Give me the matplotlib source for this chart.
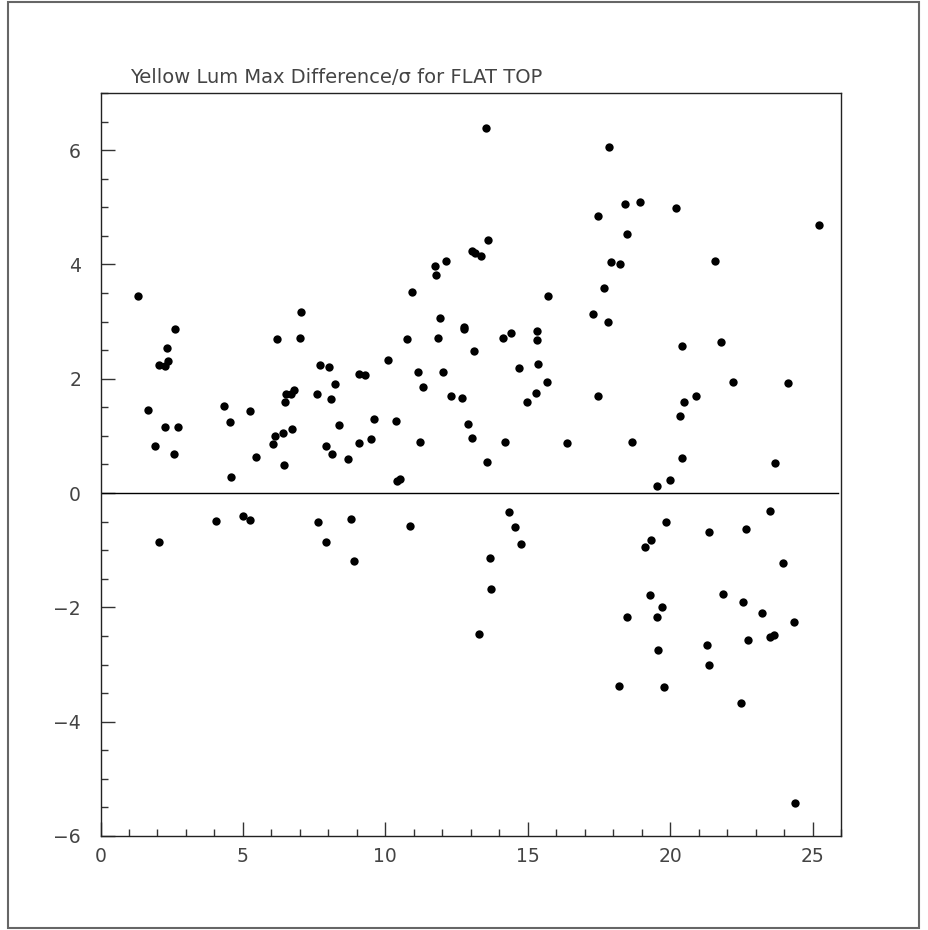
import matplotlib
matplotlib.use("Agg")
import matplotlib.pyplot as plt
from matplotlib.patches import Rectangle
from matplotlib.ticker import MultipleLocator

# scan number vs max difference / sigma
x_vals = [
    1.33, 1.67, 1.91, 2.07, 2.27, 2.33, 2.38, 2.28, 2.61, 2.71, 2.59,
    4.32, 4.54, 4.57, 5.24, 5.46, 6.06, 6.12, 6.44, 6.40, 6.21, 6.47,
    6.53, 6.70, 6.81, 6.74, 7.05, 7.02, 7.61, 7.71, 8.01, 8.09, 8.23,
    7.90, 8.12, 8.39, 8.70, 9.06, 9.27, 9.09, 9.49, 9.61, 10.11, 10.39,
    10.41, 10.50, 10.75, 10.93, 11.14, 11.23, 11.34, 11.75, 11.79, 12.14,
    11.92, 11.86, 12.03, 12.32, 12.69, 12.75, 12.77, 13.13, 12.92, 13.05,
    13.58, 13.04, 13.16, 13.35, 13.62, 13.52, 14.13, 14.41, 14.20, 14.70,
    14.96, 15.28, 15.69, 15.34, 15.33, 15.35, 15.70, 16.38,
    17.84, 18.42, 18.95, 17.47, 20.19, 18.50, 25.21, 17.94, 18.24, 21.56,
    17.68, 17.28, 17.83, 20.40, 21.80, 22.22, 24.15, 17.48, 20.49, 20.91,
    20.33, 18.66, 20.41, 23.68, 19.53, 20.00,
    2.07, 4.05, 5.02, 5.26, 7.64, 7.92, 8.80, 8.90, 10.87,
    14.33, 14.55, 14.76, 13.69, 13.70, 13.30, 18.21, 18.49, 19.12, 19.34,
    19.87, 19.28, 19.73, 19.54, 19.59, 19.79, 21.38, 21.28, 21.35, 21.84,
    22.68, 22.56, 22.75, 22.49, 23.24, 23.49, 23.50, 23.66, 23.97, 24.34,
    24.37,
]
y_vals = [
    3.45, 1.45, 0.82, 2.24, 2.23, 2.53, 2.31, 1.15, 2.87, 1.16, 0.69,
    1.52, 1.24, 0.28, 1.43, 0.63, 0.85, 0.99, 0.49, 1.05, 2.70, 1.59,
    1.73, 1.73, 1.81, 1.12, 3.16, 2.71, 1.73, 2.24, 2.21, 1.64, 1.91,
    0.82, 0.69, 1.19, 0.60, 2.09, 2.06, 0.88, 0.95, 1.30, 2.33, 1.26,
    0.21, 0.24, 2.70, 3.52, 2.12, 0.89, 1.85, 3.97, 3.82, 4.06,
    3.06, 2.71, 2.12, 1.69, 1.66, 2.87, 2.91, 2.49, 1.21, 0.96,
    0.54, 4.23, 4.20, 4.14, 4.43, 6.39, 2.71, 2.80, 0.89, 2.19,
    1.59, 1.75, 1.94, 2.84, 2.67, 2.25, 3.44, 0.88,
    6.06, 5.06, 5.10, 4.85, 4.98, 4.53, 4.69, 4.05, 4.01, 4.06,
    3.59, 3.13, 2.99, 2.57, 2.64, 1.94, 1.92, 1.69, 1.60, 1.70,
    1.34, 0.90, 0.62, 0.52, 0.12, 0.22,
    -0.85, -0.49, -0.41, -0.47, -0.50, -0.86, -0.46, -1.18, -0.58,
    -0.34, -0.59, -0.89, -1.13, -1.68, -2.46, -3.37, -2.16, -0.94, -0.82,
    -0.50, -1.78, -1.99, -2.16, -2.74, -3.40, -0.68, -2.65, -3.01, -1.76,
    -0.63, -1.91, -2.57, -3.68, -2.10, -0.32, -2.51, -2.48, -1.22, -2.25,
    -5.42,
]

title = "Yellow Lum Max Difference/\u03c3 for FLAT TOP"

fig = plt.figure(figsize=(9.29, 9.30), dpi=100)
ax = fig.add_axes([0.1082, 0.1011, 0.7971, 0.7989])

# outer frame around the whole page
fig.patches.append(Rectangle((8 / 929, 2 / 930), 911 / 929, 926 / 930,
                             transform=fig.transFigure, fill=False,
                             edgecolor="#666666", linewidth=1.5))

ax.plot(x_vals, y_vals, "o", color="black", markersize=6.0, markeredgewidth=0)
ax.plot([0, 25.9], [0, 0], color="black", linewidth=1.0)

ax.set_xlim(0, 26)
ax.set_ylim(-6, 7)
ax.xaxis.set_major_locator(MultipleLocator(5))
ax.xaxis.set_minor_locator(MultipleLocator(1))
ax.yaxis.set_major_locator(MultipleLocator(2))
ax.yaxis.set_minor_locator(MultipleLocator(0.5))

ax.tick_params(which="both", direction="in", top=False, right=False,
               color="#333333", width=1.0, labelcolor="#444444", labelsize=13.5)
ax.tick_params(which="major", length=10)
ax.tick_params(which="minor", length=5)
ax.tick_params(axis="x", which="major", pad=8)
ax.tick_params(axis="y", which="major", pad=14)

for side in ax.spines.values():
    side.set_linewidth(1.0)
    side.set_color("#222222")

fig.text(130 / 929, 1 - 83 / 930, title, fontsize=14, color="#444444",
         ha="left", va="baseline")

fig.savefig("out.png", dpi=100)
